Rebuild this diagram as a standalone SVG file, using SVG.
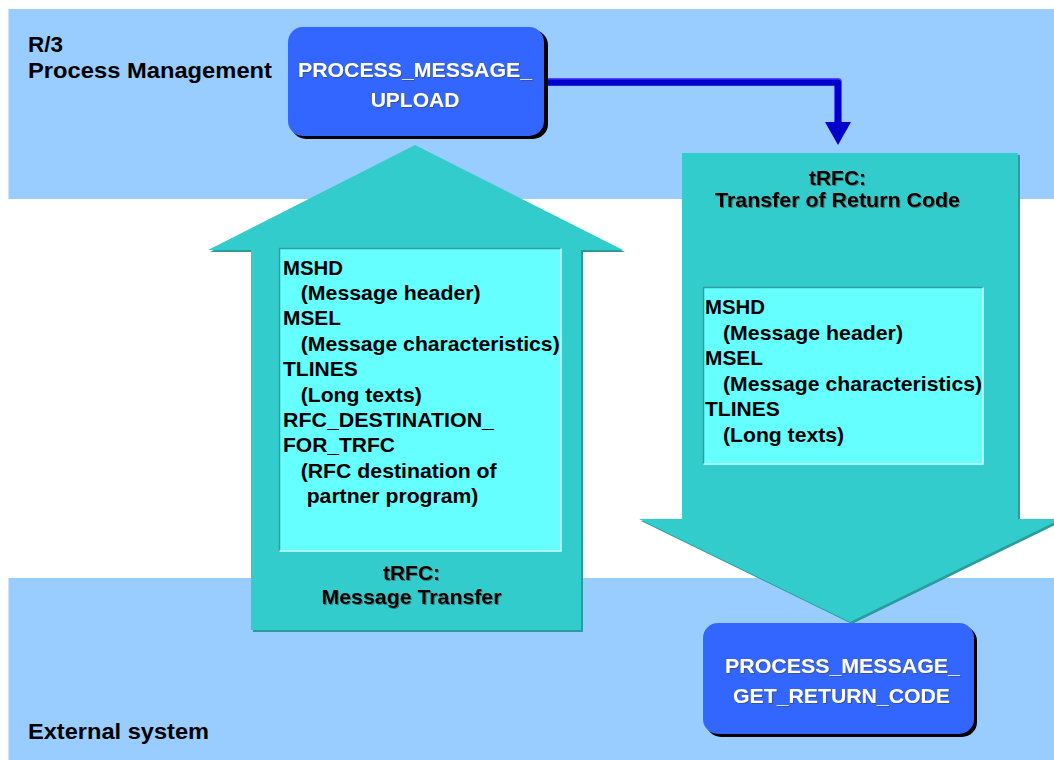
<svg xmlns="http://www.w3.org/2000/svg" width="1054" height="760" viewBox="0 0 1054 760">
  <defs>
    <filter id="tsh" x="-5%" y="-20%" width="110%" height="140%">
      <feDropShadow dx="1" dy="1" stdDeviation="0.4" flood-color="#404040" flood-opacity="0.6"/>
    </filter>
    <marker id="ah" viewBox="0 0 23 26" refX="0" refY="13" markerWidth="23" markerHeight="26" markerUnits="userSpaceOnUse" orient="auto">
      <path d="M0,0 L23,13 L0,26 Z" fill="#0000CC"/>
    </marker>
  </defs>
  <style>
    .band { fill: #99CCFF; }
    .side { font-family: "Liberation Sans", Arial, sans-serif; font-weight: bold; font-size: 22.5px; fill: #000; }
    .arrow { fill: #33CCCC; }
    .arrowsh { fill: #2A9C9C; }
    .inner { fill: #66FFFF; }
    .edgeDark { stroke: #2E9E9E; stroke-width: 1.5; fill: none; }
    .edgeLight { stroke: #CCFFFF; stroke-width: 1.5; fill: none; }
    .txt { font-family: "Liberation Sans", Arial, sans-serif; font-weight: bold; font-size: 20.5px; fill: #000; }
    .lbl { font-family: "Liberation Sans", Arial, sans-serif; font-weight: bold; font-size: 20.5px; fill: #000; text-anchor: middle; filter: url(#tsh); }
    .box { fill: #3366FF; }
    .boxsh { fill: #000; }
    .btxt { font-family: "Liberation Sans", Arial, sans-serif; font-weight: bold; font-size: 21px; fill: #FFFFFF; text-anchor: middle; filter: url(#tsh); }
  </style>

  <rect width="1054" height="760" fill="#FFFFFF"/>

  <g id="band-r3">
    <rect class="band" x="8.5" y="9" width="1046" height="190"/>
    <text class="side" x="28" y="52">R/3</text>
    <text class="side" x="28" y="78" textLength="244" lengthAdjust="spacingAndGlyphs">Process Management</text>
  </g>

  <g id="band-external">
    <rect class="band" x="8.5" y="578" width="1046" height="182"/>
    <text class="side" x="28" y="739" textLength="181" lengthAdjust="spacingAndGlyphs">External system</text>
  </g>

  <g id="trfc-message-transfer">
    <polygon class="arrowsh" points="415,147 625,252 583,252 583,632 253,632 253,252 210,252"/>
    <polygon class="arrow" points="415,145 623,250 581,250 581,630 251,630 251,250 208,250"/>
    <rect class="inner" x="279" y="248" width="282" height="303"/>
    <path class="edgeDark" d="M279.5,551 V248.5 H561"/>
    <path class="edgeLight" d="M279.5,551 H561 V248.5"/>
    <text class="txt" x="283" y="274.5" textLength="60" lengthAdjust="spacingAndGlyphs">MSHD</text>
    <text class="txt" x="300.7" y="300" textLength="180" lengthAdjust="spacingAndGlyphs">(Message header)</text>
    <text class="txt" x="283" y="325.3" textLength="58" lengthAdjust="spacingAndGlyphs">MSEL</text>
    <text class="txt" x="300.7" y="350.7" textLength="259" lengthAdjust="spacingAndGlyphs">(Message characteristics)</text>
    <text class="txt" x="283" y="376.1" textLength="74.7" lengthAdjust="spacingAndGlyphs">TLINES</text>
    <text class="txt" x="300.7" y="401.5" textLength="121" lengthAdjust="spacingAndGlyphs">(Long texts)</text>
    <text class="txt" x="283" y="426.9" textLength="211" lengthAdjust="spacingAndGlyphs">RFC_DESTINATION_</text>
    <text class="txt" x="283" y="452.3" textLength="112" lengthAdjust="spacingAndGlyphs">FOR_TRFC</text>
    <text class="txt" x="300.7" y="477.7" textLength="196" lengthAdjust="spacingAndGlyphs">(RFC destination of</text>
    <text class="txt" x="306.7" y="503.1" textLength="171.7" lengthAdjust="spacingAndGlyphs">partner program)</text>
    <text class="lbl" x="411.5" y="580" textLength="57" lengthAdjust="spacingAndGlyphs">tRFC:</text>
    <text class="lbl" x="411.5" y="604" textLength="180" lengthAdjust="spacingAndGlyphs">Message Transfer</text>
  </g>

  <g id="trfc-return-code">
    <polygon class="arrowsh" points="684,155 1020,155 1020,521 1063,521 852,624 641,521 684,521"/>
    <polygon class="arrow" points="682,153 1018,153 1018,519 1061,519 850,622 639,519 682,519"/>
    <rect class="inner" x="703" y="287" width="280" height="177"/>
    <path class="edgeDark" d="M703.5,464 V287.5 H983"/>
    <path class="edgeLight" d="M703.5,464 H983 V287.5"/>
    <text class="txt" x="705" y="314" textLength="60" lengthAdjust="spacingAndGlyphs">MSHD</text>
    <text class="txt" x="723" y="339.5" textLength="180" lengthAdjust="spacingAndGlyphs">(Message header)</text>
    <text class="txt" x="705" y="365" textLength="58" lengthAdjust="spacingAndGlyphs">MSEL</text>
    <text class="txt" x="723" y="390.5" textLength="259" lengthAdjust="spacingAndGlyphs">(Message characteristics)</text>
    <text class="txt" x="705" y="416" textLength="74.7" lengthAdjust="spacingAndGlyphs">TLINES</text>
    <text class="txt" x="723" y="441.5" textLength="121" lengthAdjust="spacingAndGlyphs">(Long texts)</text>
    <text class="lbl" x="837.5" y="185" textLength="57" lengthAdjust="spacingAndGlyphs">tRFC:</text>
    <text class="lbl" x="837.5" y="207" textLength="245" lengthAdjust="spacingAndGlyphs">Transfer of Return Code</text>
  </g>

  <g id="connectors">
    <path d="M545,82 H838 V122" fill="none" stroke="#4D4DFF" stroke-width="8" stroke-linejoin="round"/>
    <path d="M545,82.5 H838 V122" fill="none" stroke="#0000CC" stroke-width="6" stroke-linejoin="round" marker-end="url(#ah)"/>
  </g>

  <g id="process-message-upload">
    <rect class="boxsh" x="291" y="30" width="257" height="109" rx="15"/>
    <rect class="box" x="288" y="27" width="256" height="109" rx="15"/>
    <text class="btxt" x="415" y="77" textLength="234" lengthAdjust="spacingAndGlyphs">PROCESS_MESSAGE_</text>
    <text class="btxt" x="415" y="107">UPLOAD</text>
  </g>

  <g id="process-message-get-return-code">
    <rect class="boxsh" x="706" y="626" width="271" height="111" rx="15"/>
    <rect class="box" x="703" y="623" width="271" height="111" rx="15"/>
    <text class="btxt" x="842.5" y="673" textLength="235" lengthAdjust="spacingAndGlyphs">PROCESS_MESSAGE_</text>
    <text class="btxt" x="841.5" y="703" textLength="217" lengthAdjust="spacingAndGlyphs">GET_RETURN_CODE</text>
  </g>
</svg>
